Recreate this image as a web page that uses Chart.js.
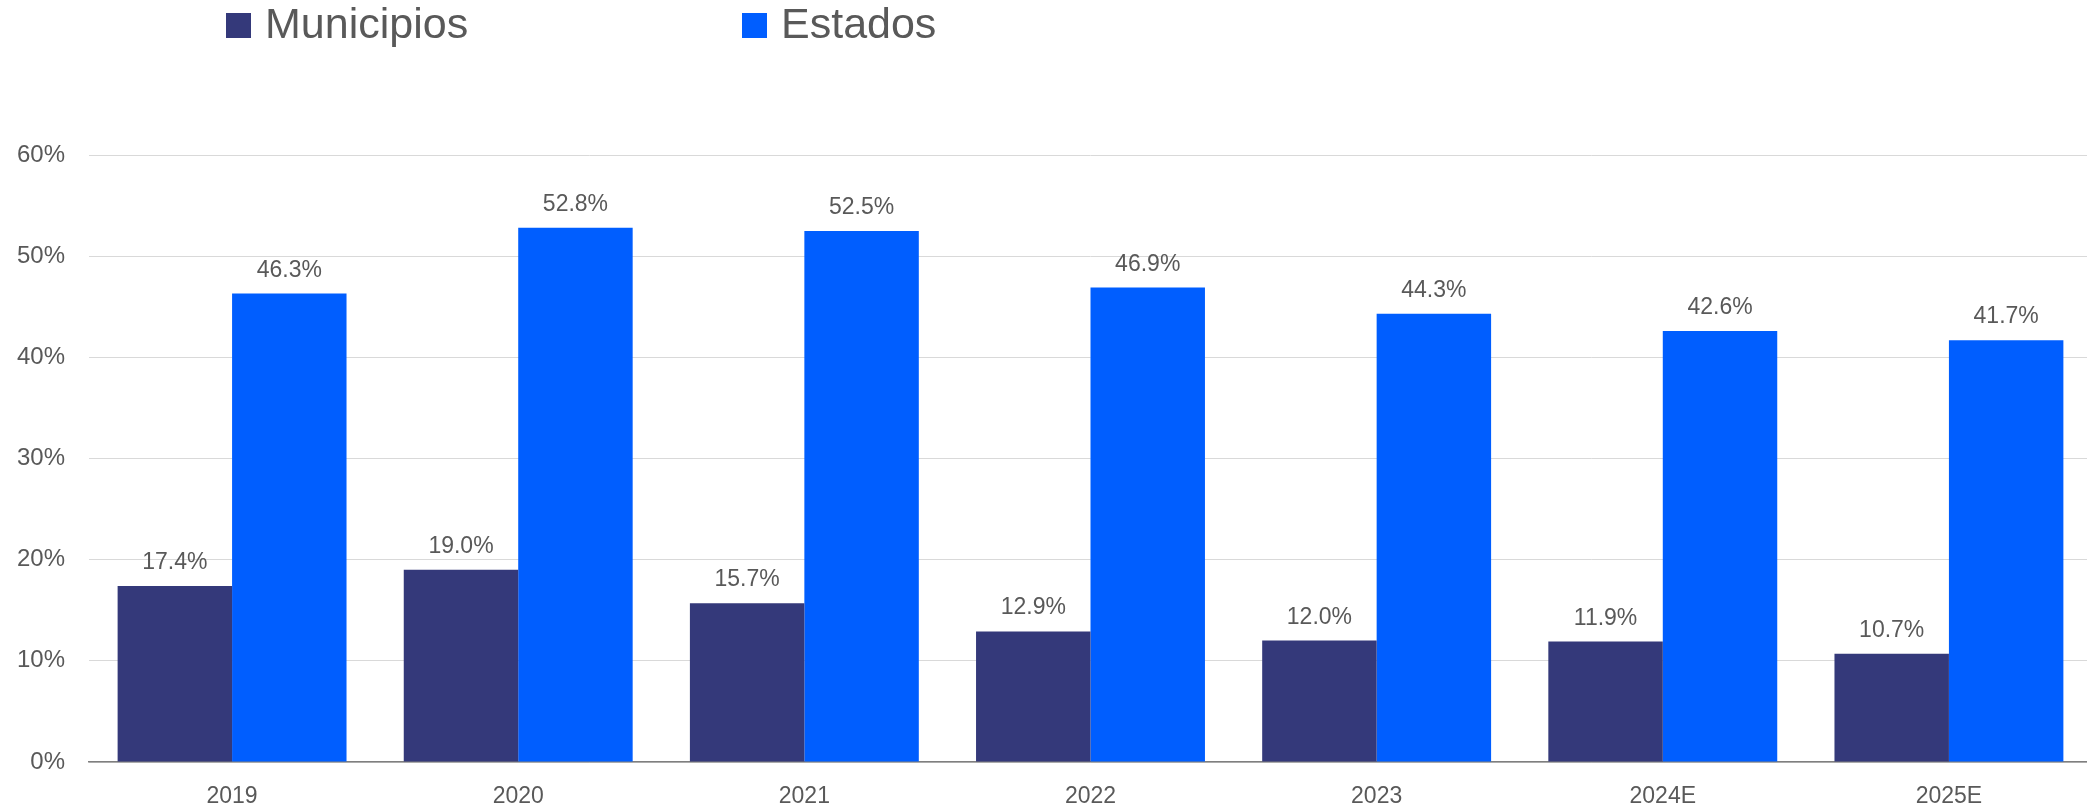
<!DOCTYPE html>
<html>
<head>
<meta charset="utf-8">
<script src="https://cdn.jsdelivr.net/npm/chart.js@4.4.1/dist/chart.umd.min.js"></script>
<style>
  html, body { margin: 0; padding: 0; background: #fff; overflow: hidden; }
  #wrap { width: 2092px; height: 806px; position: relative; }
</style>
</head>
<body>
<div id="wrap"><canvas id="share"></canvas></div>
<script>
const yearLabels = [ '2019', '2020', '2021', '2022', '2023', '2024E', '2025E' ]
const municipios = [ 17.4, 19.0, 15.7, 12.9, 12.0, 11.9, 10.7 ]
const estados = [ 46.3, 52.8, 52.5, 46.9, 44.3, 42.6, 41.7 ]
const yTicks = [ 0, 10, 20, 30, 40, 50, 60 ]

const textGrey = '#595959'
const fontFamily = '"Liberation Sans", Arial, sans-serif'

// value labels above every bar
const topLabels = {
  id: 'topLabels',
  afterDatasetsDraw(chart) {
    const { ctx } = chart
    ctx.save()
    ctx.font = '23px ' + fontFamily
    ctx.fillStyle = textGrey
    ctx.textAlign = 'center'
    ctx.textBaseline = 'alphabetic'
    chart.data.datasets.forEach((dataset, datasetIndex) => {
      chart.getDatasetMeta(datasetIndex).data.forEach((bar, i) => {
        ctx.fillText(dataset.data[i].toFixed(1) + '%', bar.x, bar.y - 17)
      })
    })
    ctx.restore()
  }
}

// legend drawn by hand so the two items sit where the original has them
const topLegend = {
  id: 'topLegend',
  afterDraw(chart) {
    const { ctx } = chart
    const itemX = [ 226, 742 ]
    ctx.save()
    ctx.font = '43px ' + fontFamily
    ctx.textBaseline = 'alphabetic'
    ctx.textAlign = 'left'
    chart.data.datasets.forEach((dataset, i) => {
      ctx.fillStyle = dataset.backgroundColor
      ctx.fillRect(itemX[i], 13, 25, 25)
      ctx.fillStyle = textGrey
      ctx.fillText(dataset.label, itemX[i] + 39, 38)
    })
    ctx.restore()
  }
}

let shareChart = new Chart(document.querySelector('#share'), {
  plugins: [topLabels, topLegend],
  type: 'bar',
  data: {
    labels: yearLabels,
    datasets: [
      {
        label: 'Municipios',
        data: municipios,
        backgroundColor: '#34397A'
      },
      {
        label: 'Estados',
        data: estados,
        backgroundColor: '#005EFF'
      }
    ]
  },
  options: {
    responsive: true,
    maintainAspectRatio: false,
    animation: false,
    layout: {
      padding: { top: 155, right: 0, bottom: 0, left: 0 }
    },
    datasets: {
      bar: {
        categoryPercentage: 0.8,
        barPercentage: 1.0
      }
    },
    scales: {
      x: {
        grid: {
          display: false,
          drawTicks: false,
          tickLength: 0
        },
        border: {
          color: '#7F7F7F',
          width: 1.5
        },
        ticks: {
          color: textGrey,
          padding: 21,
          font: { family: fontFamily, size: 23 }
        },
        afterFit(scale) { scale.height = 44 }
      },
      y: {
        min: 0,
        max: yTicks[yTicks.length - 1],
        afterBuildTicks(scale) {
          scale.ticks = yTicks.map(v => ({ value: v }))
        },
        grid: {
          color: '#D9D9D9',
          drawTicks: false,
          tickLength: 0
        },
        border: {
          display: false
        },
        ticks: {
          color: textGrey,
          padding: 24,
          font: { family: fontFamily, size: 24 },
          callback: function (value) {
            return value + '%'
          }
        },
        afterFit(scale) { scale.width = 89 }
      }
    },
    plugins: {
      legend: { display: false },
      tooltip: { enabled: false }
    }
  }
})
</script>
</body>
</html>
